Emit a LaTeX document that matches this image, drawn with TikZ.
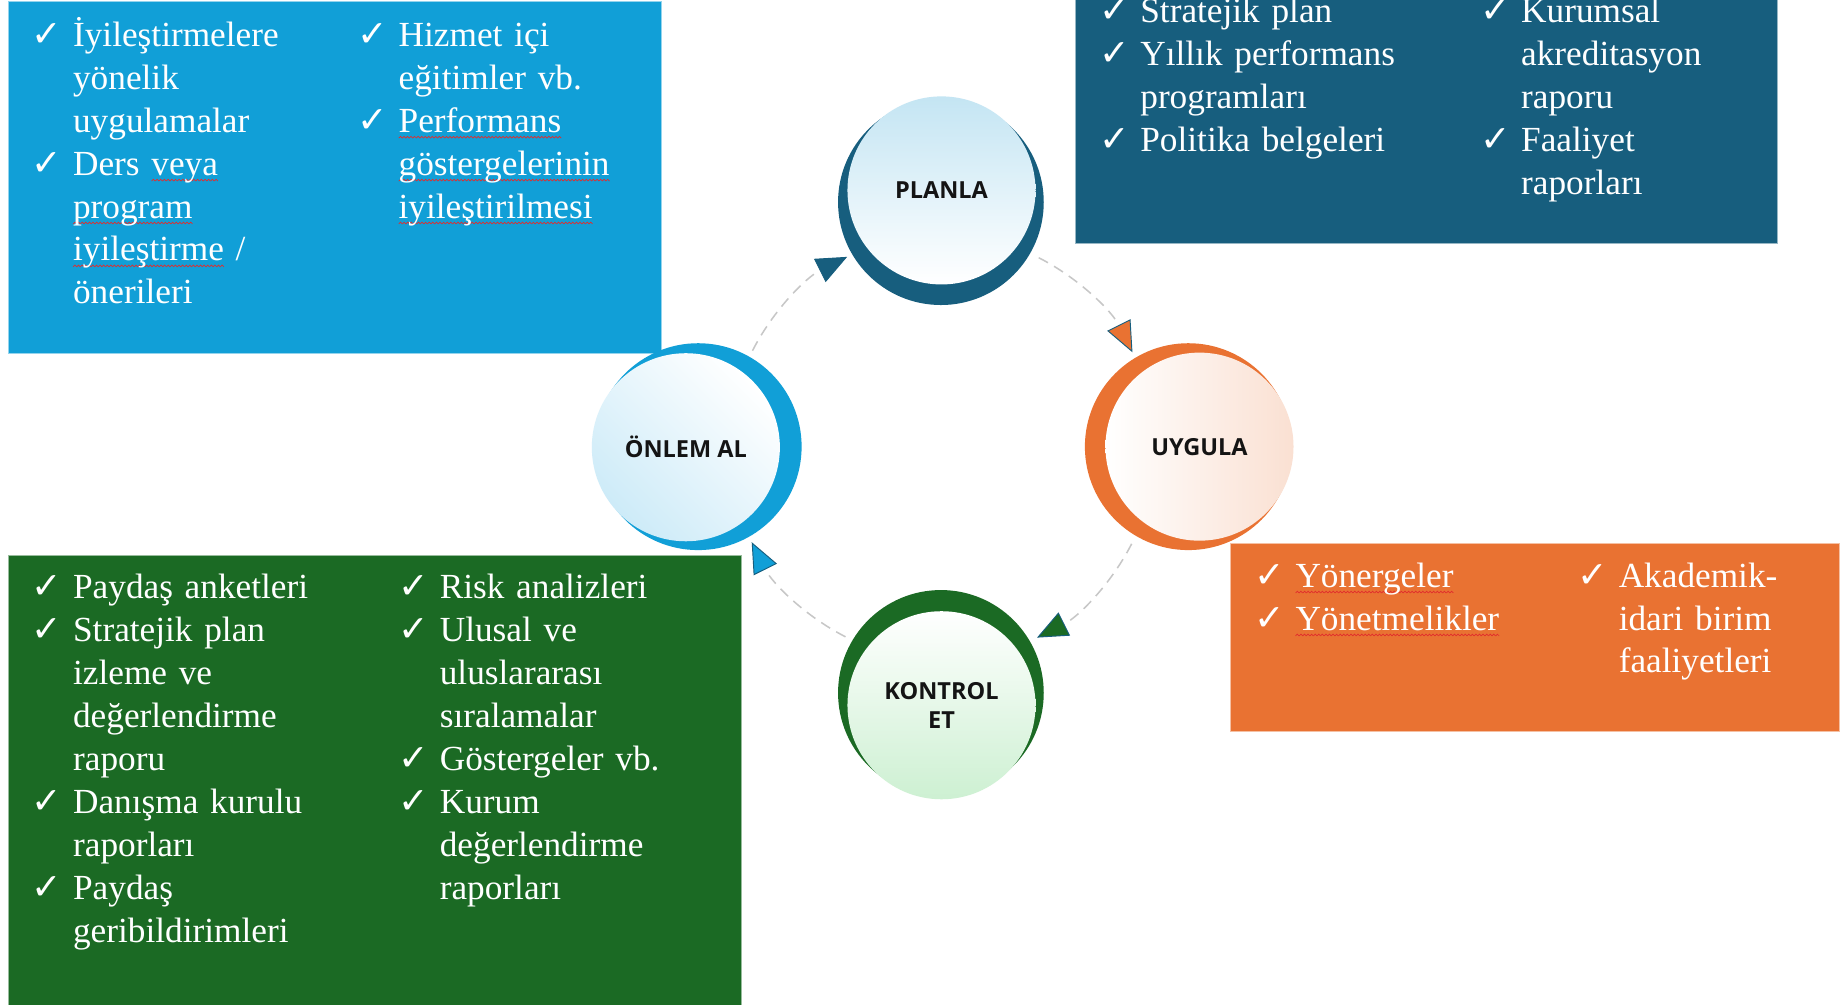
\documentclass[tikz,border=0pt]{standalone}
\usepackage{fontspec}
\setmainfont{Liberation Serif}
\newfontfamily\chkfont{DejaVu Sans}
\newfontfamily\lblfont{Open Sans}
\usetikzlibrary{arrows.meta,calc}
\definecolor{cLB}{RGB}{17,159,215}
\definecolor{cDB}{RGB}{23,94,126}
\definecolor{cOR}{RGB}{233,114,50}
\definecolor{cGR}{RGB}{27,106,36}
\definecolor{cLBl}{RGB}{205,235,248}
\definecolor{cDBl}{RGB}{196,229,243}
\definecolor{cORl}{RGB}{250,224,210}
\definecolor{cGRl}{RGB}{205,240,210}
\definecolor{cSq}{RGB}{225,45,45}
\newcommand{\chk}{\makebox[34pt][l]{\hspace*{-1pt}\chkfont\bfseries\fontsize{31}{31}\selectfont ✓}}
\newcommand{\ind}{\hspace*{34pt}}
\newsavebox{\wavebox}
\sbox{\wavebox}{\tikz[x=1pt,y=1pt]{\useasboundingbox (0,0) rectangle (3,1.5); \draw[cSq,line width=0.6pt] (0,0)--(1.5,1.5)--(3,0);}}
\newlength{\sqw}
\newcommand{\sq}[1]{\leavevmode\settowidth{\sqw}{#1}\rlap{\hbox to \sqw{\xleaders\hbox{\lower5pt\copy\wavebox}\hfil}}#1}
\tikzset{
  boxtext/.style={anchor=base west, text width=300pt, align=left, inner sep=0pt,
    text=white, font=\fontsize{30}{36.5}\selectfont},
  panel/.style={fill=#1, draw=white!55!#1, line width=0.8pt},
  lbl/.style={circle, inner sep=0pt, minimum size=160pt, align=center,
    font=\lblfont\bfseries\fontsize{20}{25}\selectfont, text=black!92},
  flow/.style={draw=black!22, line width=1.3pt, dash pattern=on 9pt off 6pt},
  tipc/.style={-{Triangle[length=26pt,width=22pt,fill=#1,color=cDB,line width=0.8pt]}}
}
\begin{document}
\begin{tikzpicture}[x=1pt,y=-1pt]
\useasboundingbox (0,0) rectangle (1568,855);
\fill[white] (0,0) rectangle (1568,855);

% panels
\path[panel=cLB] (7,1) rectangle (563,301);
\path[panel=cDB] (915,-10) rectangle (1512,207);
\path[panel=cOR] (1047,462) rectangle (1565,622);
\path[panel=cGR] (7,473) rectangle (631,870);

% panel texts
\node[boxtext] (lb1) at (28,39.5) {\chk İyileştirmelere\\
\ind yönelik\\
\ind uygulamalar\\
\chk Ders \sq{veya}\\
\ind \sq{program}\\
\ind \sq{iyileştirme} /\\
\ind önerileri};
\node[boxtext] (lb2) at (305,39.5) {\chk Hizmet içi\\
\ind eğitimler vb.\\
\chk \sq{Performans}\\
\ind \sq{göstergelerinin}\\
\ind \sq{iyileştirilmesi}};

\node[boxtext] (db1) at (936,19.5) {\chk Stratejik plan\\
\chk Yıllık performans\\
\ind programları\\
\chk Politika belgeleri};
\node[boxtext] (db2) at (1260,19.5) {\chk Kurumsal\\
\ind akreditasyon\\
\ind raporu\\
\chk Faaliyet\\
\ind raporları};

\node[boxtext] (gr1) at (28,509.5) {\chk Paydaş anketleri\\
\chk Stratejik plan\\
\ind izleme ve\\
\ind değerlendirme\\
\ind raporu\\
\chk Danışma kurulu\\
\ind raporları\\
\chk Paydaş\\
\ind geribildirimleri};
\node[boxtext] (gr2) at (340,509.5) {\chk Risk analizleri\\
\chk Ulusal ve\\
\ind uluslararası\\
\ind sıralamalar\\
\chk Göstergeler vb.\\
\chk Kurum\\
\ind değerlendirme\\
\ind raporları};

\node[boxtext] (or1) at (1068,499.5) {\chk \sq{Yönergeler}\\
\chk \sq{Yönetmelikler}};
\node[boxtext] (or2) at (1343,499.5) {\chk Akademik-\\
\ind idari birim\\
\ind faaliyetleri};

% cycle circles
\fill[cDB] (800.5,172) circle[radius=87.5pt];
\node[lbl, top color=cDBl, bottom color=white] (planla) at (801,162) {PLANLA};
\fill[cLB] (594,380) circle[radius=88pt];
\node[lbl, top color=white, bottom color=cLBl, shading angle=-45] (onlem) at (583.5,380.5) {ÖNLEM AL};
\fill[cOR] (1011,380) circle[radius=88pt];
\node[lbl, left color=white, right color=cORl] (uygula) at (1020.5,380) {UYGULA};
\fill[cGR] (800.5,589.5) circle[radius=87.5pt];
\node[lbl, top color=white, bottom color=cGRl] (kontrol) at (801,600) {KONTROL\\ET};

% connectors
\coordinate (cyc) at (801.5,380.5);
\coordinate (s1) at ($(cyc)+(207:181)$);
\coordinate (s2) at ($(cyc)+(297:181)$);
\coordinate (s3) at ($(cyc)+(27:181)$);
\coordinate (s4) at ($(cyc)+(117:181)$);
\draw[flow, tipc=cDB] (s1) arc[start angle=207, end angle=243.5, radius=181];
\draw[flow, tipc=cOR] (s2) arc[start angle=297, end angle=333.5, radius=181];
\draw[flow, tipc=cGR] (s3) arc[start angle=27, end angle=63.5, radius=181];
\draw[flow, tipc=cLB] (s4) arc[start angle=117, end angle=153.5, radius=181];
\end{tikzpicture}
\end{document}
